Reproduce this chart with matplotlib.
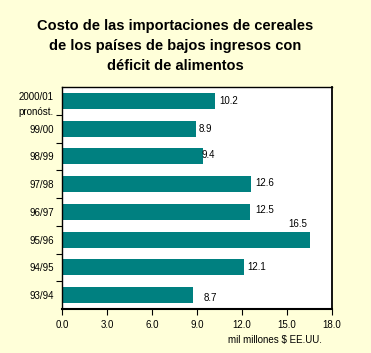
import matplotlib
matplotlib.use("Agg")
import matplotlib.pyplot as plt
import numpy as np

categories = ["2000/01\npronóst.", "99/00", "98/99", "97/98", "96/97", "95/96", "94/95", "93/94"]
values = [10.2, 8.9, 9.4, 12.6, 12.5, 16.5, 12.1, 8.7]
value_labels = ["10.2", "8.9", "9.4", "12.6", "12.5", "16.5", "12.1", "8.7"]
xticks = [0, 3, 6, 9, 12, 15, 18]
xtick_labels = ["0.0", "3.0", "6.0", "9.0", "12.0", "15.0", "18.0"]
title = "Costo de las importaciones de cereales\nde los países de bajos ingresos con\ndéficit de alimentos"
xlabel = "mil millones $ EE.UU."

# label offsets in points (dx, dy)
label_offsets = [(3, 0), (2, 0), (-1, 1), (3, 1), (4, 1), (-15, 11), (3, 0), (8, -2)]

plt.rcParams['font.family'] = ['Liberation Sans', 'DejaVu Sans']

bg = "#FFFFD9"
fig = plt.figure(figsize=(3.71, 3.53), dpi=100, facecolor=bg)
ax = fig.add_axes([62/371, 44/353, 270/371, 222/353])
ax.set_facecolor("white")

n = len(categories)
ypos = np.arange(n)
ax.barh(ypos, values, height=0.58, color="#008080", zorder=2)
ax.set_ylim(n - 0.5, -0.5)
ax.set_xlim(0, 18)

for y, v, lab, (dx, dy) in zip(ypos, values, value_labels, label_offsets):
    ax.annotate(lab, (v, y), xytext=(dx, dy), textcoords="offset points",
                ha="left", va="center", fontsize=7, color="black")

ax.set_xticks(xticks)
ax.set_xticklabels(xtick_labels, fontsize=7)
ax.set_yticks(ypos)
ax.set_yticklabels(categories, fontsize=7, linespacing=1.6)
ax.set_yticks(np.arange(n - 1) + 0.5, minor=True)
ax.tick_params(axis="y", which="major", length=0, pad=6)
ax.tick_params(axis="y", which="minor", length=4, width=0.8, direction="out")
ax.tick_params(axis="x", length=4, width=0.8, direction="out", pad=4)

for s in ax.spines.values():
    s.set_color("black")
    s.set_linewidth(1.0)
ax.spines["bottom"].set_linewidth(1.5)
ax.spines["right"].set_linewidth(1.3)

fig.text(175/371, 1 - 19/353, title, ha="center", va="top", fontsize=10.5,
         fontweight="bold", linespacing=1.55)
fig.text(322/371, 1 - 340/353, xlabel, ha="right", va="center", fontsize=7)

fig.savefig("out.png", dpi=100, facecolor=bg)
